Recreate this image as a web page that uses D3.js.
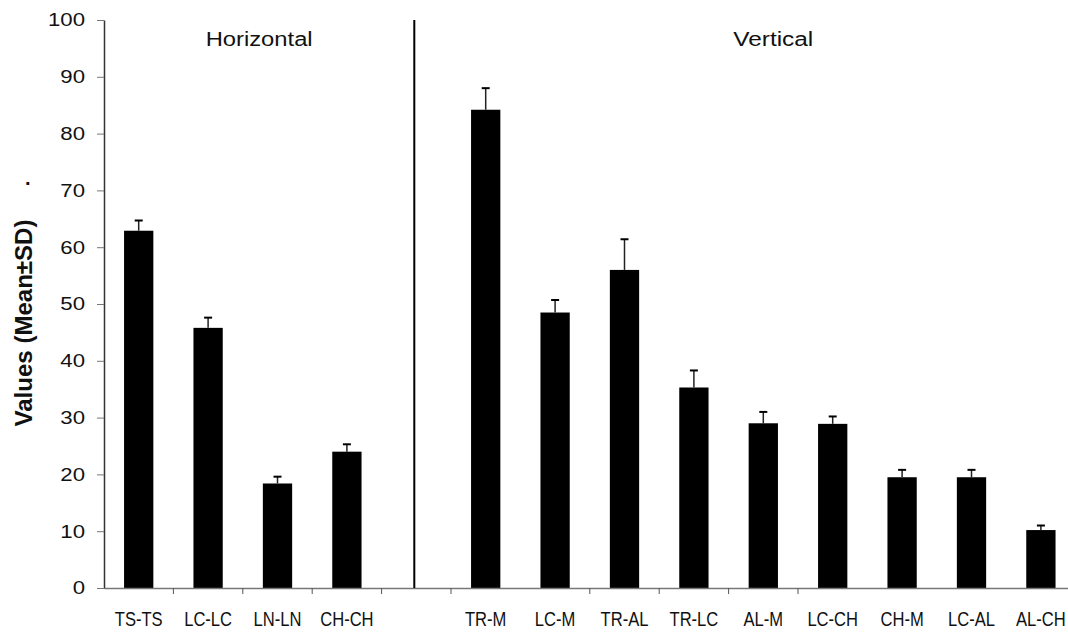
<!DOCTYPE html>
<html>
<head>
<meta charset="utf-8">
<script src="https://cdn.jsdelivr.net/npm/d3@7"></script>
<style>
  body { margin: 0; background: #fff; }
  text { font-family: Arial, "Liberation Sans", sans-serif; fill: #111; }
</style>
</head>
<body>
<div id="chart-area"></div>
<script>
// Pair categories, blank slot separates the two groups
var categories = ["TS-TS", "LC-LC", "LN-LN", "CH-CH", "", "TR-M", "LC-M", "TR-AL", "TR-LC", "AL-M", "LC-CH", "CH-M", "LC-AL", "AL-CH"];
var means = [62.9, 45.8, 18.4, 24.0, null, 84.2, 48.5, 56.0, 35.3, 29.0, 28.9, 19.5, 19.5, 10.2];
var sds   = [1.8, 1.8, 1.2, 1.3, null, 3.8, 2.2, 5.4, 3.0, 2.0, 1.3, 1.3, 1.3, 0.8];
var yTicks = [0, 10, 20, 30, 40, 50, 60, 70, 80, 90, 100];
// categories whose right edge carries a tick in the original
var tickAfter = ["TS-TS", "LC-LC", "LN-LN", "CH-CH", "", "LC-M", "TR-AL", "TR-LC", "AL-M"];
var horizontalCats = ["TS-TS", "LC-LC", "LN-LN", "CH-CH"];
var verticalCats = ["TR-M", "LC-M", "TR-AL", "TR-LC", "AL-M", "LC-CH", "CH-M", "LC-AL", "AL-CH"];

var width = 1068, height = 633;
var plotLeft = 104, plotTop = 20, plotBottom = 588;

var svg = d3.select("#chart-area").append("svg")
    .attr("width", width)
    .attr("height", height);

var data = categories.map(function(c, i) {
    return { cat: c, mean: means[i], sd: sds[i] };
}).filter(function(d) { return d.mean != null; });

// Scales (the original is cropped on the right, so range runs past the edge)
var x = d3.scaleBand()
    .domain(categories)
    .range([plotLeft, plotLeft + categories.length * 69.4])
    .paddingInner(0.578)
    .paddingOuter(0.289);
var y = d3.scaleLinear().domain([0, 100]).range([plotBottom, plotTop]);
var gap = x.step() * x.paddingInner() / 2;

// bars
svg.selectAll(".bar").data(data).enter().append("rect")
    .attr("class", "bar")
    .attr("x", function(d) { return x(d.cat); })
    .attr("y", function(d) { return y(d.mean); })
    .attr("width", x.bandwidth())
    .attr("height", function(d) { return plotBottom - y(d.mean); })
    .attr("fill", "#000");

// upper error whiskers
var err = svg.selectAll(".err").data(data).enter().append("g")
    .attr("class", "err")
    .attr("transform", function(d) { return "translate(" + (x(d.cat) + x.bandwidth() / 2) + ",0)"; });
err.append("line")
    .attr("y1", function(d) { return y(d.mean); })
    .attr("y2", function(d) { return y(d.mean + d.sd); })
    .attr("stroke", "#222")
    .attr("stroke-width", 1.5);
err.append("line")
    .attr("x1", -4).attr("x2", 4)
    .attr("y1", function(d) { return y(d.mean + d.sd); })
    .attr("y2", function(d) { return y(d.mean + d.sd); })
    .attr("stroke", "#000")
    .attr("stroke-width", 2);

// x-axis
var xAxis = svg.append("g")
    .attr("class", "x axis")
    .attr("transform", "translate(0," + plotBottom + ")")
    .call(d3.axisBottom(x).tickSize(0).tickSizeOuter(0).tickPadding(24));
xAxis.select(".domain").attr("stroke", "#777").attr("stroke-width", 1.6);
xAxis.selectAll("text")
    .attr("font-size", "19.5px")
    .attr("fill", "#111")
    .attr("transform", "scale(0.85,1)");

svg.selectAll(".xtick").data(tickAfter).enter().append("line")
    .attr("class", "xtick")
    .attr("x1", function(c) { return x(c) + x.bandwidth() + gap; })
    .attr("x2", function(c) { return x(c) + x.bandwidth() + gap; })
    .attr("y1", plotBottom)
    .attr("y2", plotBottom + 6)
    .attr("stroke", "#555");

// y-axis
var yAxis = svg.append("g")
    .attr("class", "y axis")
    .attr("transform", "translate(" + plotLeft + ",0)")
    .call(d3.axisLeft(y).tickValues(yTicks).tickSize(7).tickSizeOuter(0));
yAxis.select(".domain").attr("stroke", "#333").attr("stroke-width", 1.5);
yAxis.selectAll(".tick line").attr("stroke", "#777");
yAxis.selectAll("text")
    .attr("font-size", "18.5px")
    .attr("fill", "#111")
    .attr("x", -19 / 1.2)
    .attr("transform", "scale(1.2,1)");

// divider between groups
var divX = x("") + x.bandwidth() / 2 - 2;
svg.append("line")
    .attr("x1", divX).attr("x2", divX)
    .attr("y1", plotTop).attr("y2", plotBottom)
    .attr("stroke", "#000")
    .attr("stroke-width", 2);

// group titles
svg.append("text")
    .attr("x", (plotLeft + divX) / 2)
    .attr("y", 46)
    .attr("text-anchor", "middle")
    .attr("font-size", "19.5px")
    .attr("textLength", 107)
    .attr("lengthAdjust", "spacingAndGlyphs")
    .text("Horizontal");
var vStart = x(verticalCats[0]) - gap,
    vEnd = x(verticalCats[verticalCats.length - 1]) + x.bandwidth() + gap;
svg.append("text")
    .attr("x", (vStart + vEnd) / 2 + 10)
    .attr("y", 46)
    .attr("text-anchor", "middle")
    .attr("font-size", "19.5px")
    .attr("textLength", 80)
    .attr("lengthAdjust", "spacingAndGlyphs")
    .text("Vertical");

// y label
svg.append("text")
    .attr("transform", "translate(32,323) rotate(-90)")
    .attr("text-anchor", "middle")
    .attr("font-size", "23px")
    .attr("font-weight", "bold")
    .attr("textLength", 207)
    .attr("lengthAdjust", "spacingAndGlyphs")
    .text("Values (Mean±SD)");
svg.append("text")
    .attr("x", 25)
    .attr("y", 185)
    .attr("font-size", "20px")
    .attr("font-weight", "bold")
    .text(".");
</script>
</body>
</html>
